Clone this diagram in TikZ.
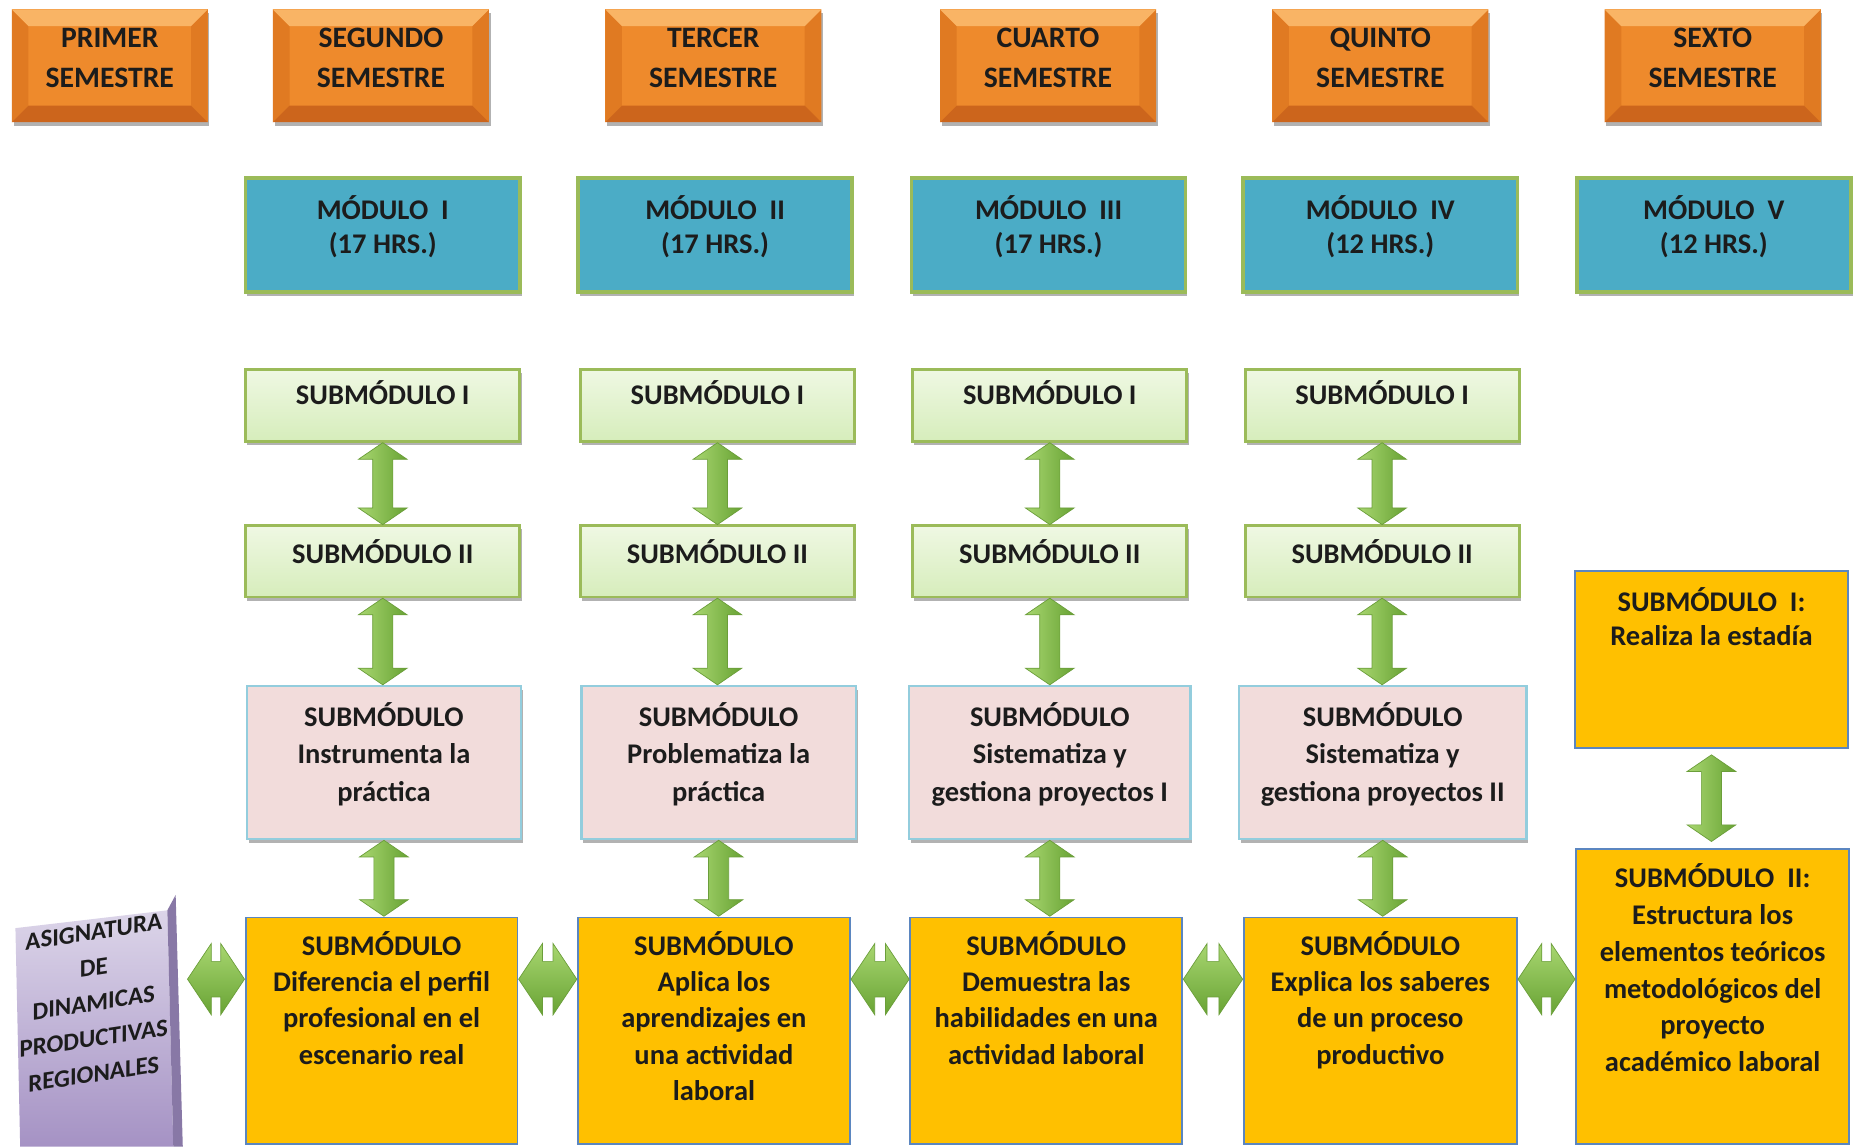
\documentclass[tikz,border=0pt]{standalone}
\usepackage{fontspec}
\setmainfont{Carlito}
\usetikzlibrary{shadows,calc}
\definecolor{semT}{HTML}{F9B465}
\definecolor{semM}{HTML}{EE8A2C}
\definecolor{semS}{HTML}{E07A22}
\definecolor{semB}{HTML}{CC651C}
\definecolor{modF}{HTML}{4BACC6}
\definecolor{modD}{HTML}{9BBB59}
\definecolor{grnT}{HTML}{EFF8E3}
\definecolor{grnB}{HTML}{D6EDBB}
\definecolor{grnD}{HTML}{9BBB59}
\definecolor{pnkF}{HTML}{F2DCDB}
\definecolor{pnkD}{HTML}{93CDDD}
\definecolor{orgF}{HTML}{FFC000}
\definecolor{orgD}{HTML}{5B86C0}
\definecolor{arL}{HTML}{A8D670}
\definecolor{arD}{HTML}{68A334}
\definecolor{arO}{HTML}{6B9E3A}
\definecolor{purT}{HTML}{DCD5E9}
\definecolor{purB}{HTML}{A592C4}
\definecolor{purS}{HTML}{8878A6}
\definecolor{txt}{HTML}{1C1C1C}
\newcommand\tbox[4]{\parbox[c][#1][t]{#2}{\centering\vspace*{\dimexpr#3-0.7\baselineskip\relax}\strut#4}}
\tikzset{
  box/.style={inner sep=0pt, outer sep=0pt, text=txt},
  shd/.style={drop shadow={shadow xshift=1.5pt, shadow yshift=-3pt, opacity=0.3, fill=black}},
  sembox/.style={box, shd, fill=semM,
    font=\fontsize{25}{34}\selectfont\bfseries,
    path picture={
      \coordinate (NW) at (path picture bounding box.north west);
      \coordinate (NE) at (path picture bounding box.north east);
      \coordinate (SW) at (path picture bounding box.south west);
      \coordinate (SE) at (path picture bounding box.south east);
      \fill[semS] (NW) -- ([xshift=14pt,yshift=-14pt]NW) -- ([xshift=14pt,yshift=14pt]SW) -- (SW) -- cycle;
      \fill[semS] (NE) -- ([xshift=-14pt,yshift=-14pt]NE) -- ([xshift=-14pt,yshift=14pt]SE) -- (SE) -- cycle;
      \fill[semT] (NW) -- (NE) -- ([xshift=-14pt,yshift=-14pt]NE) -- ([xshift=14pt,yshift=-14pt]NW) -- cycle;
      \fill[semB] (SW) -- (SE) -- ([xshift=-14pt,yshift=14pt]SE) -- ([xshift=14pt,yshift=14pt]SW) -- cycle;
    }},
  modbox/.style={box, shd, fill=modF, draw=modD, line width=3pt,
    font=\fontsize{24}{29}\selectfont\bfseries},
  grnbox/.style={box, shd, top color=grnT, bottom color=grnB, draw=grnD, line width=2.5pt,
    font=\fontsize{24}{29}\selectfont\bfseries},
  pnkbox/.style={box, shd, fill=pnkF, draw=pnkD, line width=2pt,
    font=\fontsize{24}{31.5}\selectfont\bfseries},
  orgbox/.style={box, fill=orgF, draw=orgD, line width=1.5pt,
    font=\fontsize{24}{30.5}\selectfont\bfseries},
  varrow/.style={left color=arL, right color=arD, draw=arO, line width=0.6pt,
    to path={let \p1=(\tikztostart), \p2=(\tikztotarget) in
      (\x1,\y1-1pt) -- (\x1+20.5pt,\y1-15pt) -- (\x1+8.5pt,\y1-15pt) -- (\x1+8.5pt,\y2+15pt)
      -- (\x1+20.5pt,\y2+15pt) -- (\x1,\y2+1pt) -- (\x1-20.5pt,\y2+15pt) -- (\x1-8.5pt,\y2+15pt)
      -- (\x1-8.5pt,\y1-15pt) -- (\x1-20.5pt,\y1-15pt) -- cycle}},
  harrow/.style={top color=arL, bottom color=arD, draw=arO, line width=0.6pt,
    to path={let \p1=(\tikztostart), \p2=(\tikztotarget) in
      (\x1+1pt,\y1) -- (\x1+21pt,\y1+30pt) -- (\x1+21pt,\y1+15pt) -- (\x2-21pt,\y1+15pt)
      -- (\x2-21pt,\y1+30pt) -- (\x2-1pt,\y1) -- (\x2-21pt,\y1-30pt) -- (\x2-21pt,\y1-15pt)
      -- (\x1+21pt,\y1-15pt) -- (\x1+21pt,\y1-30pt) -- cycle}},
  asigtxt/.style={inner sep=0pt, align=center, text=txt,
    font=\fontsize{21}{30}\selectfont\bfseries}
}
\begin{document}
\begin{tikzpicture}[x=1pt,y=-1pt]
\fill[white] (0,0) rectangle (1568,966);
\useasboundingbox (0,0) rectangle (1568,966);

% semesters
\node[sembox] (s1) at (92.5,55.5) {\tbox{95pt}{165pt}{32pt}{PRIMER\\SEMESTRE}};
\node[sembox] (s2) at (321,55.5) {\tbox{95pt}{182pt}{32pt}{SEGUNDO\\SEMESTRE}};
\node[sembox] (s3) at (601,55.5) {\tbox{95pt}{182pt}{32pt}{TERCER\\SEMESTRE}};
\node[sembox] (s4) at (883,55.5) {\tbox{95pt}{182pt}{32pt}{CUARTO\\SEMESTRE}};
\node[sembox] (s5) at (1163,55.5) {\tbox{95pt}{182pt}{32pt}{QUINTO\\SEMESTRE}};
\node[sembox] (s6) at (1443,55.5) {\tbox{95pt}{182pt}{32pt}{SEXTO\\SEMESTRE}};

% modules
\node[modbox] (m1) at (322.5,198) {\tbox{96pt}{231pt}{35pt}{MÓDULO\ \ I\\(17 HRS.)}};
\node[modbox] (m2) at (602.5,198) {\tbox{96pt}{231pt}{35pt}{MÓDULO\ \ II\\(17 HRS.)}};
\node[modbox] (m3) at (883.5,198) {\tbox{96pt}{231pt}{35pt}{MÓDULO\ \ III\\(17 HRS.)}};
\node[modbox] (m4) at (1163,198) {\tbox{96pt}{231pt}{35pt}{MÓDULO\ \ IV\\(12 HRS.)}};
\node[modbox] (m5) at (1444,198) {\tbox{96pt}{231pt}{35pt}{MÓDULO\ \ V\\(12 HRS.)}};

% submodulo I
\node[grnbox] (g1) at (322.5,341.5) {\tbox{61pt}{231pt}{30pt}{SUBMÓDULO I}};
\node[grnbox] (g2) at (604.5,341.5) {\tbox{61pt}{231pt}{30pt}{SUBMÓDULO I}};
\node[grnbox] (g3) at (884.5,341.5) {\tbox{61pt}{231pt}{30pt}{SUBMÓDULO I}};
\node[grnbox] (g4) at (1164.5,341.5) {\tbox{61pt}{231pt}{30pt}{SUBMÓDULO I}};

% submodulo II
\node[grnbox] (h1) at (322.5,473) {\tbox{60pt}{231pt}{32pt}{SUBMÓDULO II}};
\node[grnbox] (h2) at (604.5,473) {\tbox{60pt}{231pt}{32pt}{SUBMÓDULO II}};
\node[grnbox] (h3) at (884.5,473) {\tbox{60pt}{231pt}{32pt}{SUBMÓDULO II}};
\node[grnbox] (h4) at (1164.5,473) {\tbox{60pt}{231pt}{32pt}{SUBMÓDULO II}};

% pink
\node[pnkbox] (p1) at (323.5,642.5) {\tbox{129pt}{231pt}{34pt}{SUBMÓDULO\\Instrumenta la\\práctica}};
\node[pnkbox] (p2) at (605.5,642.5) {\tbox{129pt}{231pt}{34pt}{SUBMÓDULO\\Problematiza la\\práctica}};
\node[pnkbox] (p3) at (884.5,642.5) {\tbox{129pt}{237pt}{34pt}{SUBMÓDULO\\Sistematiza y\\gestiona proyectos I}};
\node[pnkbox] (p4) at (1165,642.5) {\tbox{129pt}{242pt}{34pt}{SUBMÓDULO\\Sistematiza y\\gestiona proyectos II}};

% orange
\node[orgbox] (o1) at (321.5,868.5) {\tbox{191pt}{229pt}{32pt}{SUBMÓDULO\\Diferencia el perfil\\profesional en el\\escenario real}};
\node[orgbox] (o2) at (601.5,868.5) {\tbox{191pt}{229pt}{32pt}{SUBMÓDULO\\Aplica los\\aprendizajes en\\una actividad\\laboral}};
\node[orgbox] (o3) at (881.5,868.5) {\tbox{191pt}{229pt}{32pt}{SUBMÓDULO\\Demuestra las\\habilidades en una\\actividad laboral}};
\node[orgbox] (o4) at (1163,868.5) {\tbox{191pt}{230pt}{32pt}{SUBMÓDULO\\Explica los saberes\\de un proceso\\productivo}};

% sexto
\node[orgbox, font=\fontsize{24}{29}\selectfont\bfseries] (x1) at (1442,555.5) {\tbox{149pt}{230pt}{34pt}{SUBMÓDULO\ \ I:\\Realiza la estadía}};
\node[orgbox, font=\fontsize{24}{31}\selectfont\bfseries] (o5) at (1443,839.5) {\tbox{249pt}{230pt}{33pt}{SUBMÓDULO\ \ II:\\Estructura los\\elementos teóricos\\metodológicos del\\proyecto\\académico laboral}};

% asignatura block
\shade[top color=purT, bottom color=purB] (13,782) -- (141,767) -- (146,966) -- (17,966) -- cycle;
\fill[purS] (141,767) -- (148,754) -- (154,966) -- (146,966) -- cycle;
\node[asigtxt, yslant=0.15] (asig) at (79,845) {ASIGNATURA\\DE\\DINAMICAS\\PRODUCTIVAS\\REGIONALES};
\coordinate (asigR) at (157,825);

% vertical arrows
\foreach \i in {1,2,3,4}{
  \path[varrow] (g\i.south) to (h\i.north);
  \path[varrow] (h\i.south) to (p\i.north);
  \path[varrow] (p\i.south) to (o\i.north);
}
\path[varrow] ([yshift=-5pt]x1.south) to ([yshift=5pt]o5.north);

% horizontal arrows
\coordinate (hl1) at ([yshift=-52pt]o1.north west);
\coordinate (hr1) at ([yshift=-52pt]o1.north east);
\coordinate (hl2) at ([yshift=-52pt]o2.north west);
\coordinate (hr2) at ([yshift=-52pt]o2.north east);
\coordinate (hl3) at ([yshift=-52pt]o3.north west);
\coordinate (hr3) at ([yshift=-52pt]o3.north east);
\coordinate (hl4) at ([yshift=-52pt]o4.north west);
\coordinate (hr4) at ([yshift=-52pt]o4.north east);
\coordinate (hl5) at (hr4 -| o5.west);
\path[harrow] (asigR) to (hl1);
\path[harrow] (hr1) to (hl2);
\path[harrow] (hr2) to (hl3);
\path[harrow] (hr3) to (hl4);
\path[harrow] (hr4) to (hl5);
\end{tikzpicture}
\end{document}
